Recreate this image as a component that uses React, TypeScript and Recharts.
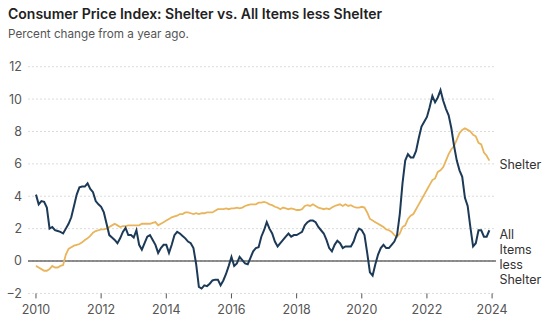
import { LineChart, Line, XAxis, YAxis, CartesianGrid, ReferenceLine } from 'recharts'

// monthly, Jan 2010 .. Dec 2023
const allLessShelter = [
  4.1, 3.5, 3.7, 3.65, 3.3, 2.0, 2.1, 1.9, 1.85, 1.8, 1.7, 2.0,
  2.3, 2.7, 3.4, 4.1, 4.55, 4.6, 4.6, 4.8, 4.45, 4.25, 3.7, 3.5,
  3.35, 3.0, 2.3, 1.6, 1.45, 1.3, 1.1, 1.4, 1.8, 2.05, 1.6, 1.6,
  1.45, 1.9, 1.0, 0.7, 1.1, 1.5, 1.6, 1.3, 1.0, 0.5, 0.8, 1.0,
  1.0, 0.5, 1.0, 1.6, 1.8, 1.7, 1.55, 1.4, 1.2, 1.1, 0.8, -0.2,
  -1.6, -1.7, -1.5, -1.55, -1.4, -1.2, -1.15, -1.15, -1.5, -1.2, -0.8, -0.3,
  0.25, -0.3, -0.15, 0.25, 0.05, -0.15, -0.2, 0.2, 0.6, 0.8, 0.85, 1.5,
  1.9, 2.4, 2.0, 1.7, 1.2, 0.9, 1.1, 1.3, 1.5, 1.7, 1.5, 1.6,
  1.6, 1.7, 1.8, 2.2, 2.4, 2.5, 2.5, 2.4, 2.1, 1.9, 1.7, 1.3,
  0.8, 0.6, 1.0, 1.25, 1.1, 0.8, 0.9, 0.9, 0.9, 1.2, 1.7, 2.0,
  1.9, 1.6, 0.5, -0.7, -0.9, -0.2, 0.4, 0.8, 1.0, 0.8, 0.8, 1.0,
  1.2, 1.6, 2.9, 4.8, 6.2, 6.6, 6.4, 6.4, 6.8, 7.6, 8.3, 8.6,
  8.9, 9.5, 10.2, 9.8, 10.1, 10.55, 9.9, 9.4, 9.0, 8.2, 7.1, 6.2,
  5.6, 5.2, 3.9, 3.4, 2.1, 0.9, 1.1, 1.9, 1.9, 1.5, 1.5, 1.9,
]

const shelter = [
  -0.3, -0.4, -0.5, -0.6, -0.6, -0.5, -0.3, -0.4, -0.4, -0.3, -0.25, 0.4,
  0.75, 0.85, 0.95, 1.0, 1.05, 1.15, 1.3, 1.4, 1.55, 1.75, 1.85, 1.9,
  1.95, 1.95, 2.0, 2.1, 2.2, 2.3, 2.2, 2.1, 2.15, 2.15, 2.2, 2.2,
  2.2, 2.2, 2.2, 2.3, 2.3, 2.3, 2.3, 2.35, 2.4, 2.2, 2.3, 2.4,
  2.5, 2.6, 2.7, 2.75, 2.8, 2.9, 2.9, 3.0, 3.0, 2.95, 2.9, 2.95,
  2.9, 2.95, 2.95, 3.0, 3.0, 3.0, 3.1, 3.2, 3.2, 3.2, 3.25, 3.2,
  3.25, 3.25, 3.3, 3.25, 3.3, 3.4, 3.45, 3.5, 3.5, 3.5, 3.6, 3.6,
  3.65, 3.6, 3.5, 3.45, 3.35, 3.3, 3.2, 3.3, 3.25, 3.2, 3.25, 3.2,
  3.15, 3.15, 3.2, 3.4, 3.45, 3.4, 3.5, 3.4, 3.3, 3.25, 3.2, 3.25,
  3.2, 3.3, 3.4, 3.45, 3.5, 3.4, 3.5, 3.4, 3.45, 3.35, 3.3, 3.3,
  3.35, 3.3, 3.0, 2.6, 2.5, 2.4, 2.3, 2.2, 2.1, 1.95, 1.9, 1.8,
  1.6, 1.5, 1.7, 2.1, 2.2, 2.6, 2.8, 2.9, 3.2, 3.5, 3.8, 4.1,
  4.4, 4.7, 5.0, 5.1, 5.5, 5.6, 5.8, 6.2, 6.6, 6.9, 7.1, 7.5,
  7.9, 8.1, 8.2, 8.1, 8.0, 7.8, 7.7, 7.3, 7.2, 6.7, 6.5, 6.2,
]

const startYear = 2010
const xTicks = [2010, 2012, 2014, 2016, 2018, 2020, 2022, 2024]
const yTicks = [-2, 0, 2, 4, 6, 8, 10, 12]

const data = shelter.map((s, i) => ({
  date: startYear + i / 12,
  shelter: s,
  other: allLessShelter[i],
}))

const last = data.length - 1
const font = 'Inter, "Noto Sans", sans-serif'

function EndLabel({ lines, dy }: { lines: string[]; dy: number }) {
  return (props: any) => {
    if (props.index !== last) return null
    return (
      <text x={props.x + 10} y={props.y + dy} fill="#333" fontSize={12.5} fontFamily={font}>
        {lines.map((l, i) => (
          <tspan key={i} x={props.x + 10} dy={i === 0 ? 0 : 15}>{l}</tspan>
        ))}
      </text>
    )
  }
}

export default function App() {
  return (
    <div style={{ position: 'absolute', top: 0, left: 0, width: 549, height: 327, background: '#fff', fontFamily: font }}>
      <div style={{ position: 'absolute', left: 8, top: 5, fontSize: 14, fontWeight: 600, color: '#222', whiteSpace: 'nowrap' }}>
        Consumer Price Index: Shelter vs. All Items less Shelter
      </div>
      <div style={{ position: 'absolute', left: 8, top: 27, fontSize: 11.7, color: '#555', whiteSpace: 'nowrap' }}>
        Percent change from a year ago.
      </div>
      <div style={{ position: 'absolute', top: 0, left: 0 }}>
        <LineChart width={549} height={327} data={data} margin={{ top: 66.7, right: 53, bottom: 3.6, left: 8 }}>
          <CartesianGrid vertical={false} stroke="#dcdcdc" strokeDasharray="2 2" />
          <XAxis
            type="number"
            dataKey="date"
            domain={[2009.755, 2024.12]}
            ticks={xTicks}
            allowDataOverflow
            axisLine={false}
            tickSize={5}
            tickMargin={7}
            height={30}
            tickLine={{ stroke: '#555' }}
            tick={{ fill: '#555', fontSize: 12.5, fontFamily: font }}
          />
          <YAxis
            domain={[-2, 12]}
            ticks={yTicks}
            width={20}
            axisLine={false}
            tickLine={false}
            tickSize={0}
            tickMargin={6}
            tickFormatter={(v) => (v < 0 ? `\u2212${Math.abs(v)}` : `${v}`)}
            tick={{ fill: '#555', fontSize: 12.5, fontFamily: font }}
          />
          <ReferenceLine y={0} stroke="#222" strokeWidth={1} />
          <Line
            type="linear"
            dataKey="shelter"
            stroke="#e9b55c"
            strokeWidth={1.8}
            dot={false}
            isAnimationActive={false}
            label={EndLabel({ lines: ['Shelter'], dy: 8 })}
          />
          <Line
            type="linear"
            dataKey="other"
            stroke="#1c3a57"
            strokeWidth={2}
            dot={false}
            isAnimationActive={false}
            label={EndLabel({ lines: ['All', 'Items', 'less', 'Shelter'], dy: 9 })}
          />
        </LineChart>
      </div>
    </div>
  )
}
